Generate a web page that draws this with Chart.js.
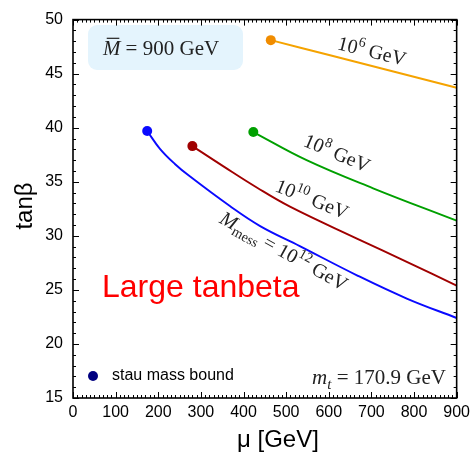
<!DOCTYPE html>
<html>
<head>
<meta charset="utf-8">
<script src="https://cdn.jsdelivr.net/npm/chart.js@4"></script>
<style>
  html, body { margin: 0; padding: 0; background: #fff; }
</style>
</head>
<body>
<canvas id="myChart" width="475" height="454"></canvas>
<script>
// curves of constant messenger scale
const mu12 = [174, 204, 239, 274, 368, 439, 532, 666, 783, 900];
const tb12 = [39.7, 38.05, 36.65, 35.5, 32.75, 30.9, 29.05, 26.35, 24.2, 22.4];

const mu10 = [280, 352, 432, 509, 666, 783, 900];
const tb10 = [38.3, 36.45, 34.45, 32.7, 29.75, 27.6, 25.4];

const mu8 = [423, 548, 704, 900];
const tb8 = [39.6, 37.0, 34.4, 31.4];

const mu6 = [464, 603, 900];
const tb6 = [48.1, 46.7, 43.7];

const xTicks = [0, 100, 200, 300, 400, 500, 600, 700, 800, 900];
const yTicks = [15, 20, 25, 30, 35, 40, 45, 50];

const sans = 'Arial, "Liberation Sans", sans-serif';
const serif = '"Liberation Serif", "Times New Roman", serif';

function pts(xs, ys) {
    return xs.map((x, i) => ({ x: x, y: ys[i] }));
}

function curve(label, xs, ys, color, dotColor) {
    return {
        label: label,
        data: pts(xs, ys),
        showLine: true,
        borderColor: color,
        backgroundColor: color,
        borderWidth: 1.9,
        tension: 0.4,
        pointRadius: ctx => ctx.dataIndex === 0 ? 5 : 0,
        pointBackgroundColor: dotColor,
        pointBorderColor: dotColor,
        pointBorderWidth: 0,
        pointHoverRadius: 0
    };
}

// text with italic / super / subscript pieces, centred at (x, y), rotated by deg
function mathText(ctx, parts, x, y, deg, size) {
    const fontOf = p => (p.it ? 'italic ' : '') + ((p.sup || p.sub) ? Math.round(size * 0.7) : size) + 'px ' + serif;
    ctx.save();
    ctx.translate(x, y);
    ctx.rotate(deg * Math.PI / 180);
    let w = 0;
    parts.forEach(p => { ctx.font = fontOf(p); w += ctx.measureText(p.t).width; });
    let cx = -w / 2;
    ctx.textAlign = 'left';
    ctx.textBaseline = 'alphabetic';
    ctx.fillStyle = '#222';
    parts.forEach(p => {
        ctx.font = fontOf(p);
        let dy = p.sup ? -size * 0.42 : (p.sub ? size * 0.22 : 0);
        let tw = ctx.measureText(p.t).width;
        ctx.fillText(p.t, cx, dy + size * 0.33);
        if (p.bar) {
            ctx.fillRect(cx + tw * 0.22, dy + size * 0.33 - size * 0.82, tw * 0.72, 1.2);
        }
        cx += tw;
    });
    ctx.restore();
}

const decor = {
    id: 'decor',
    beforeDatasetsDraw(chart) {
        const ctx = chart.ctx;
        // parameter box
        ctx.save();
        ctx.fillStyle = '#e4f4fd';
        ctx.beginPath();
        ctx.roundRect(88, 25, 155, 45, 9);
        ctx.fill();
        ctx.restore();
    },
    afterDatasetsDraw(chart) {
        const ctx = chart.ctx;
        const a = chart.chartArea;
        const xs = chart.scales.x, ys = chart.scales.y;

        // frame + inward ticks
        ctx.save();
        ctx.strokeStyle = '#000';
        ctx.lineWidth = 1;
        for (let v = 0; v <= 900; v += 10) {
            let px = Math.round(xs.getPixelForValue(v)) + 0.5;
            let len = (v % 100 === 0) ? 6 : 3;
            ctx.beginPath();
            ctx.moveTo(px, a.bottom); ctx.lineTo(px, a.bottom - len);
            ctx.moveTo(px, a.top); ctx.lineTo(px, a.top + len);
            ctx.stroke();
        }
        for (let v = 15; v <= 50; v += 1) {
            let py = Math.round(ys.getPixelForValue(v)) + 0.5;
            let len = (v % 5 === 0) ? 6 : 3;
            ctx.beginPath();
            ctx.moveTo(a.left, py); ctx.lineTo(a.left + len, py);
            ctx.moveTo(a.right, py); ctx.lineTo(a.right - len, py);
            ctx.stroke();
        }
        ctx.lineWidth = 1.6;
        ctx.strokeRect(a.left, a.top, a.right - a.left, a.bottom - a.top);
        ctx.restore();

        // curve labels
        mathText(ctx, [{ t: '10' }, { t: '6', sup: 1 }, { t: ' GeV' }], 372, 51, 14, 20);
        mathText(ctx, [{ t: '10' }, { t: '8', sup: 1 }, { t: ' GeV' }], 337, 153, 23, 20);
        mathText(ctx, [{ t: '10' }, { t: '10', sup: 1 }, { t: ' GeV' }], 312, 199, 22, 20);
        mathText(ctx, [{ t: 'M', it: 1 }, { t: 'mess', sub: 1 }, { t: ' = 10' }, { t: '12', sup: 1 }, { t: ' GeV' }], 284, 251, 29, 20);

        // box text and top mass
        mathText(ctx, [{ t: 'M', it: 1, bar: 1 }, { t: ' = 900 GeV' }], 161, 48, 0, 21);
        mathText(ctx, [{ t: 'm', it: 1 }, { t: 't', it: 1, sub: 1 }, { t: ' = 170.9 GeV' }], 379, 377, 0, 21);

        ctx.save();
        // big red note
        ctx.fillStyle = '#ff0000';
        ctx.font = '32px ' + sans;
        ctx.textAlign = 'left';
        ctx.textBaseline = 'alphabetic';
        ctx.fillText('Large tanbeta', 102, 297);

        // legend
        ctx.fillStyle = '#000080';
        ctx.beginPath();
        ctx.arc(93, 376, 5, 0, Math.PI * 2);
        ctx.fill();
        ctx.fillStyle = '#000';
        ctx.font = '16px ' + sans;
        ctx.textBaseline = 'middle';
        ctx.fillText('stau mass bound', 112, 376);

        // axis titles
        ctx.font = '24px ' + sans;
        ctx.textAlign = 'left';
        ctx.textBaseline = 'alphabetic';
        ctx.fillText('\u03bc [GeV]', 237, 447);
        ctx.translate(32, 206);
        ctx.rotate(-Math.PI / 2);
        ctx.textAlign = 'center';
        ctx.fillText('tan\u03b2', 0, 0);
        ctx.restore();
    }
};

const canvas = document.getElementById('myChart');
const chart = new Chart(canvas, {
    type: 'scatter',
    data: {
        datasets: [
            curve('1e12', mu12, tb12, '#0a0aff', '#0a0aff'),
            curve('1e10', mu10, tb10, '#a00000', '#a00000'),
            curve('1e8', mu8, tb8, '#00a000', '#00a000'),
            curve('1e6', mu6, tb6, '#f5a300', '#f08c00')
        ]
    },
    options: {
        responsive: false,
        animation: false,
        devicePixelRatio: 1,
        layout: { padding: { top: 14, right: 18, left: 0, bottom: 0 } },
        plugins: {
            legend: { display: false },
            tooltip: { enabled: false }
        },
        scales: {
            x: {
                type: 'linear',
                min: 0,
                max: 900,
                afterBuildTicks: s => { s.ticks = xTicks.map(v => ({ value: v })); },
                afterFit: s => { s.height = 56; },
                ticks: { color: '#000', font: { family: sans, size: 16 }, padding: 5, maxRotation: 0 },
                grid: { display: false, drawTicks: false },
                border: { display: false }
            },
            y: {
                min: 15,
                max: 50,
                afterBuildTicks: s => { s.ticks = yTicks.map(v => ({ value: v })); },
                afterFit: s => { s.width = 73; },
                ticks: { color: '#000', font: { family: sans, size: 16 }, padding: 10 },
                grid: { display: false, drawTicks: false },
                border: { display: false }
            }
        }
    },
    plugins: [decor]
});
</script>
</body>
</html>
